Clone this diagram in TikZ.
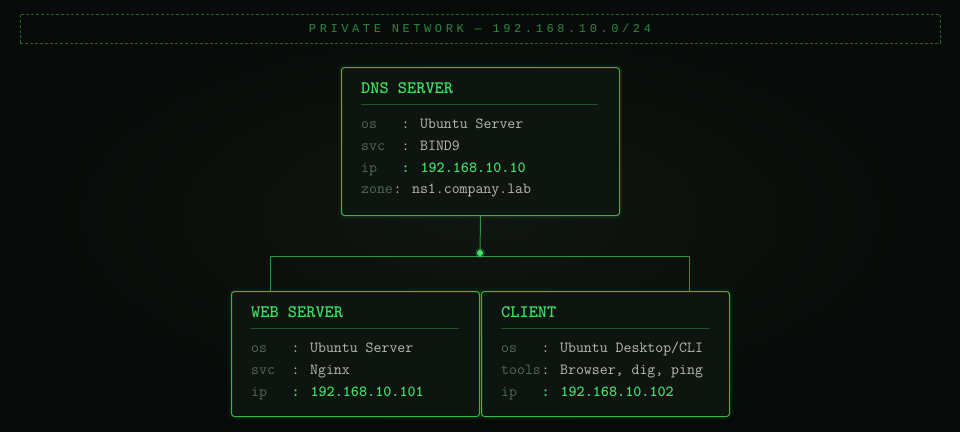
\documentclass[tikz,border=0pt]{standalone}
\usepackage{fontspec}
\newfontfamily\hdrfont[LetterSpace=30]{Liberation Mono}
\definecolor{bgin}{RGB}{16,22,17}
\definecolor{bgout}{RGB}{7,10,8}
\definecolor{boxfill}{RGB}{14,20,16}
\definecolor{boxline}{RGB}{46,186,76}
\definecolor{titlec}{RGB}{62,224,96}
\definecolor{sepc}{RGB}{30,84,42}
\definecolor{keyc}{RGB}{78,108,84}
\definecolor{valc}{RGB}{182,188,180}
\definecolor{ipc}{RGB}{64,226,104}
\definecolor{connc}{RGB}{40,150,66}
\definecolor{hdrc}{RGB}{40,138,62}
\definecolor{hdrline}{RGB}{30,100,46}
\tikzset{
  box/.style={draw=boxline, fill=boxfill, rounded corners=3pt, line width=1pt, anchor=north west, inner sep=0pt,
    preaction={draw=boxline, line width=6pt, draw opacity=0.07}},
  boxtitle/.style={anchor=base west, inner sep=0pt, text=titlec, font=\ttfamily\bfseries\fontsize{17.5}{17.5}\selectfont},
  keytext/.style={anchor=base west, inner sep=0pt, text=keyc, font=\ttfamily\fontsize{15.4}{15.4}\selectfont},
  valtext/.style={anchor=base west, inner sep=0pt, text=valc, font=\ttfamily\fontsize{15.4}{15.4}\selectfont},
  iptext/.style={anchor=base west, inner sep=0pt, text=ipc, font=\ttfamily\bfseries\fontsize{15.4}{15.4}\selectfont},
  sepline/.style={draw=sepc, line width=0.8pt},
  conn/.style={draw=connc, line width=1pt},
  netbox/.style={draw=hdrline, dash pattern=on 3pt off 2pt, line width=0.7pt, minimum width=920pt, minimum height=29pt, inner sep=0pt,
    text=hdrc, font=\hdrfont\fontsize{12}{12}\selectfont}
}
\begin{document}
\begin{tikzpicture}[x=1pt,y=-1pt]
\useasboundingbox (0,0) rectangle (960,431);
\shade[inner color=bgin, outer color=bgout] (0,0) rectangle (960,431);

\node[netbox] (net) at (480,28.5) {PRIVATE NETWORK — 192.168.10.0/24};

% DNS server
\node[box, minimum width=278pt, minimum height=148pt] (dns) at (341,67) {};
\node[boxtitle] (dnst) at (361,93) {DNS SERVER};
\coordinate (dnss1) at (361,104);
\coordinate (dnss2) at (598,104);
\draw[sepline] (dnss1) -- (dnss2);
\node[keytext] (dnsk1) at (361,128) {os};
\node[valtext] (dnsv1) at (401.5,128) {: Ubuntu Server};
\node[keytext] (dnsk2) at (361,150) {svc};
\node[valtext] (dnsv2) at (401.5,150) {: BIND9};
\node[keytext] (dnsk3) at (361,172) {ip};
\node[iptext] (dnsv3) at (401.5,172) {: 192.168.10.10};
\node[keytext] (dnsk4) at (361,193) {zone};
\node[valtext] (dnsv4) at (393.4,193) {: ns1.company.lab};

% Web server
\node[box, minimum width=248pt, minimum height=125pt] (web) at (231,291) {};
\node[boxtitle] (webt) at (251,317) {WEB SERVER};
\coordinate (webs1) at (251,328);
\coordinate (webs2) at (459,328);
\draw[sepline] (webs1) -- (webs2);
\node[keytext] (webk1) at (251,352) {os};
\node[valtext] (webv1) at (291.5,352) {: Ubuntu Server};
\node[keytext] (webk2) at (251,374) {svc};
\node[valtext] (webv2) at (291.5,374) {: Nginx};
\node[keytext] (webk3) at (251,396) {ip};
\node[iptext] (webv3) at (291.5,396) {: 192.168.10.101};

% Client
\node[box, minimum width=248pt, minimum height=125pt] (cli) at (481,291) {};
\node[boxtitle] (clit) at (501,317) {CLIENT};
\coordinate (clis1) at (501,328);
\coordinate (clis2) at (709,328);
\draw[sepline] (clis1) -- (clis2);
\node[keytext] (clik1) at (501,352) {os};
\node[valtext] (cliv1) at (541.5,352) {: Ubuntu Desktop/CLI};
\node[keytext] (clik2) at (501,374) {tools};
\node[valtext] (cliv2) at (541.5,374) {: Browser, dig, ping};
\node[keytext] (clik3) at (501,396) {ip};
\node[iptext] (cliv3) at (541.5,396) {: 192.168.10.102};

% connectors
\coordinate (junc) at (480,253);
\coordinate (hl) at (270,256);
\coordinate (hr) at (689,256);
\draw[conn] (dns.south) -- (junc);
\draw[conn] (hl) -- (hr);
\draw[conn] (hl) -- (hl |- web.north);
\draw[conn] (hr) -- (hr |- cli.north);
\fill[ipc, opacity=0.25] (junc) circle (5pt);
\fill[ipc] (junc) circle (3pt);
\end{tikzpicture}
\end{document}
